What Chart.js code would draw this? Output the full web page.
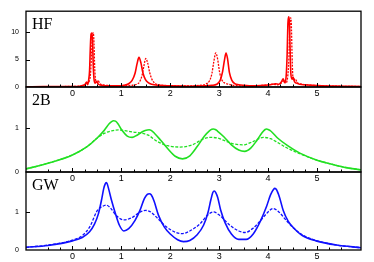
<!DOCTYPE html>
<html>
<head>
<meta charset="utf-8">
<script src="https://cdn.jsdelivr.net/npm/chart.js@4.4.0/dist/chart.umd.min.js"></script>
<style>
  html, body { margin: 0; padding: 0; background: #fff; }
  #wrap { position: relative; width: 374px; height: 262px; }
  #wrap canvas { position: absolute; left: 0; top: 0; }
</style>
</head>
<body>
<div id="wrap">
  <canvas id="hf" width="374" height="262"></canvas>
  <canvas id="twoB" width="374" height="262"></canvas>
  <canvas id="gw" width="374" height="262"></canvas>
</div>
<script>
// x axis shared by all three panels
const xMin = -0.95;
const xMax = 5.9;
const xTickLabels = [0, 1, 2, 3, 4, 5];

// HF panel (red)
const hfSolidX = [-0.95, -0.6, -0.3, 0.0, 0.15, 0.22, 0.26, 0.29, 0.31, 0.33, 0.35, 0.365, 0.38, 0.395, 0.41, 0.425, 0.44, 0.46, 0.49, 0.53, 0.6, 0.75, 0.9, 1.05, 1.15, 1.22, 1.28, 1.32, 1.36, 1.40, 1.44, 1.49, 1.55, 1.62, 1.75, 2.0, 2.4, 2.7, 2.85, 2.95, 3.02, 3.07, 3.11, 3.14, 3.17, 3.21, 3.26, 3.32, 3.4, 3.5, 3.7, 3.9, 4.05, 4.15, 4.22, 4.27, 4.31, 4.34, 4.37, 4.39, 4.405, 4.42, 4.435, 4.45, 4.465, 4.49, 4.51, 4.54, 4.58, 4.65, 4.75, 4.9, 5.1, 5.5, 5.9];
const hfSolidY = [0.05, 0.06, 0.08, 0.1, 0.15, 0.3, 0.5, 0.9, 0.4, 1.2, 3.0, 7.0, 9.6, 9.8, 8.5, 4.0, 1.5, 0.7, 1.0, 0.5, 0.3, 0.2, 0.2, 0.3, 0.6, 1.2, 2.5, 4.2, 5.4, 4.4, 2.6, 1.4, 0.8, 0.5, 0.3, 0.2, 0.15, 0.2, 0.3, 0.5, 1.2, 2.8, 5.0, 6.2, 5.2, 2.6, 1.2, 0.6, 0.4, 0.3, 0.2, 0.3, 0.4, 0.6, 0.5, 0.9, 1.5, 0.8, 2.0, 6.0, 11.5, 12.8, 12.0, 7.0, 2.5, 1.4, 1.8, 1.0, 0.7, 0.5, 0.4, 0.3, 0.2, 0.15, 0.1];
const hfDotX = [-0.95, -0.5, 0.0, 0.15, 0.25, 0.3, 0.34, 0.37, 0.39, 0.41, 0.425, 0.44, 0.455, 0.47, 0.49, 0.52, 0.56, 0.65, 0.8, 1.0, 1.2, 1.3, 1.37, 1.42, 1.46, 1.5, 1.54, 1.58, 1.63, 1.7, 1.8, 2.0, 2.3, 2.6, 2.72, 2.8, 2.85, 2.89, 2.93, 2.97, 3.01, 3.06, 3.12, 3.2, 3.3, 3.6, 3.9, 4.1, 4.2, 4.28, 4.33, 4.36, 4.4, 4.425, 4.445, 4.46, 4.475, 4.49, 4.505, 4.52, 4.55, 4.6, 4.7, 4.85, 5.0, 5.4, 5.9];
const hfDotY = [0.05, 0.07, 0.1, 0.15, 0.4, 0.7, 1.0, 2.5, 6.0, 9.4, 9.9, 8.0, 3.5, 1.5, 0.9, 1.2, 0.6, 0.35, 0.25, 0.2, 0.3, 0.45, 0.9, 2.0, 3.8, 5.2, 4.3, 2.6, 1.3, 0.6, 0.35, 0.25, 0.2, 0.3, 0.5, 1.1, 2.4, 4.6, 6.2, 5.0, 2.6, 1.2, 0.7, 0.5, 0.3, 0.2, 0.3, 0.5, 0.4, 0.8, 1.2, 0.7, 1.8, 5.0, 11.0, 12.6, 11.5, 6.0, 2.0, 1.2, 1.5, 0.8, 0.5, 0.35, 0.25, 0.15, 0.1];

// 2B panel (green)
const bSolidX = [-0.95, -0.5, 0, 0.3, 0.5, 0.65, 0.75, 0.8, 0.84, 0.88, 0.93, 1.02, 1.12, 1.22, 1.32, 1.45, 1.53, 1.57, 1.61, 1.68, 1.8, 1.95, 2.1, 2.25, 2.4, 2.55, 2.7, 2.8, 2.85, 2.88, 2.92, 2.97, 3.1, 3.25, 3.4, 3.52, 3.65, 3.77, 3.88, 3.94, 3.97, 4.0, 4.06, 4.2, 4.4, 4.65, 5.0, 5.33, 5.6, 5.9];
const bSolidY = [0.07, 0.2, 0.39, 0.58, 0.77, 0.95, 1.1, 1.15, 1.17, 1.16, 1.1, 0.94, 0.82, 0.79, 0.84, 0.93, 0.96, 0.965, 0.95, 0.88, 0.73, 0.53, 0.36, 0.3, 0.37, 0.58, 0.82, 0.94, 0.975, 0.98, 0.97, 0.93, 0.8, 0.62, 0.5, 0.47, 0.55, 0.72, 0.9, 0.97, 0.98, 0.97, 0.93, 0.77, 0.6, 0.43, 0.27, 0.17, 0.1, 0.05];
const bDashX = [-0.95, -0.5, 0, 0.3, 0.5, 0.65, 0.8, 0.94, 1.1, 1.25, 1.38, 1.55, 1.73, 1.95, 2.2, 2.45, 2.65, 2.8, 2.95, 3.1, 3.27, 3.49, 3.7, 3.9, 4.05, 4.2, 4.37, 4.6, 5.0, 5.33, 5.6, 5.9];
const bDashY = [0.07, 0.2, 0.39, 0.58, 0.77, 0.88, 0.94, 0.96, 0.94, 0.91, 0.89, 0.84, 0.7, 0.6, 0.57, 0.62, 0.74, 0.79, 0.78, 0.72, 0.65, 0.62, 0.7, 0.79, 0.76, 0.67, 0.56, 0.44, 0.27, 0.17, 0.1, 0.05];

// GW panel (blue)
const gwSolidX = [-0.95, -0.5, 0, 0.2, 0.35, 0.45, 0.53, 0.6, 0.64, 0.67, 0.69, 0.71, 0.745, 0.8, 0.88, 0.96, 1.05, 1.15, 1.28, 1.38, 1.47, 1.53, 1.57, 1.61, 1.67, 1.76, 1.88, 2.0, 2.15, 2.27, 2.4, 2.55, 2.68, 2.77, 2.83, 2.87, 2.9, 2.93, 2.97, 3.03, 3.12, 3.25, 3.4, 3.55, 3.7, 3.85, 3.97, 4.05, 4.11, 4.14, 4.17, 4.23, 4.31, 4.41, 4.51, 4.7, 4.98, 5.4, 5.9];
const gwSolidY = [0.07, 0.12, 0.24, 0.33, 0.48, 0.68, 0.95, 1.35, 1.62, 1.74, 1.77, 1.74, 1.58, 1.3, 0.95, 0.65, 0.5, 0.56, 0.78, 1.04, 1.35, 1.46, 1.48, 1.45, 1.28, 0.91, 0.6, 0.42, 0.27, 0.22, 0.25, 0.4, 0.65, 0.98, 1.32, 1.51, 1.55, 1.51, 1.38, 1.05, 0.72, 0.42, 0.28, 0.28, 0.43, 0.78, 1.15, 1.45, 1.59, 1.62, 1.59, 1.4, 1.04, 0.76, 0.6, 0.38, 0.24, 0.13, 0.06];
const gwDashX = [-0.95, -0.5, 0, 0.2, 0.35, 0.51, 0.62, 0.69, 0.78, 0.9, 1.05, 1.2, 1.39, 1.5, 1.6, 1.75, 1.93, 2.1, 2.24, 2.4, 2.61, 2.75, 2.88, 3.0, 3.22, 3.4, 3.53, 3.7, 3.85, 4.0, 4.1, 4.22, 4.37, 4.5, 4.7, 4.98, 5.4, 5.9];
const gwDashY = [0.07, 0.13, 0.26, 0.38, 0.6, 1.04, 1.15, 1.18, 1.1, 0.9, 0.79, 0.84, 1.0, 1.04, 1.0, 0.82, 0.6, 0.47, 0.43, 0.5, 0.69, 0.9, 1.0, 0.92, 0.65, 0.5, 0.46, 0.58, 0.78, 1.0, 1.09, 1.0, 0.78, 0.6, 0.4, 0.25, 0.13, 0.06];

function isInt(v) {
  return Math.abs(v - Math.round(v)) < 1e-6;
}

function toPoints(xs, ys) {
  return xs.map((x, i) => ({ x: x, y: ys[i] }));
}

// box round the plot, inward ticks and the panel name
const framePlugin = {
  id: 'frame',
  afterDraw(chart, args, opts) {
    const ctx = chart.ctx;
    const a = chart.chartArea;
    ctx.save();
    ctx.strokeStyle = '#000';
    ctx.lineWidth = 1.3;
    ctx.strokeRect(a.left, a.top, a.right - a.left, a.bottom - a.top);

    ctx.lineWidth = 1;
    const xs = chart.scales.x;
    for (const t of xs.ticks) {
      if (t.value <= xs.min + 1e-6 || t.value >= xs.max - 1e-6) continue;
      const px = Math.round(xs.getPixelForValue(t.value)) + 0.5;
      const len = isInt(t.value) ? 4 : 2.5;
      ctx.beginPath();
      ctx.moveTo(px, a.bottom);
      ctx.lineTo(px, a.bottom - len);
      ctx.stroke();
    }
    const ys = chart.scales.y;
    for (const t of ys.ticks) {
      if (t.value <= ys.min || t.value >= ys.max - 1e-6) continue;
      const py = Math.round(ys.getPixelForValue(t.value)) + 0.5;
      ctx.beginPath();
      ctx.moveTo(a.left, py);
      ctx.lineTo(a.left + 4, py);
      ctx.stroke();
    }

    ctx.fillStyle = '#000';
    ctx.font = '16px "Liberation Serif"';
    ctx.textBaseline = 'top';
    ctx.fillText(opts.label, a.left + 6, a.top + 6);
    ctx.restore();
  }
};

function makePanel(id, label, color, solid, dashed, dash, yMax, yStep, padTop, padBottom, xAxisHeight) {
  return new Chart(document.getElementById(id), {
    type: 'line',
    data: {
      datasets: [
        { data: solid, borderColor: color, borderWidth: 1.6 },
        { data: dashed, borderColor: color, borderWidth: 1.3, borderDash: dash }
      ]
    },
    options: {
      responsive: false,
      animation: false,
      elements: { point: { radius: 0 }, line: { cubicInterpolationMode: 'monotone' } },
      layout: { padding: { top: padTop, bottom: padBottom, left: 0, right: 13 } },
      plugins: {
        legend: { display: false },
        tooltip: { enabled: false },
        frame: { label: label }
      },
      scales: {
        x: {
          type: 'linear',
          min: xMin,
          max: xMax,
          grid: { display: false, drawTicks: false },
          border: { display: false },
          afterFit: (scale) => { scale.height = xAxisHeight; },
          ticks: {
            stepSize: 0.25,
            autoSkip: false,
            maxRotation: 0,
            padding: 1,
            color: '#000',
            font: { family: 'Liberation Sans', size: 9 },
            callback: (v) => (isInt(v) && xTickLabels.includes(Math.round(v))) ? String(Math.round(v)) : ''
          }
        },
        y: {
          min: 0,
          max: yMax,
          grid: { display: false, drawTicks: false },
          border: { display: false },
          afterFit: (scale) => { scale.width = 26; },
          ticks: {
            stepSize: yStep,
            autoSkip: false,
            padding: 7,
            color: '#000',
            font: { family: 'Liberation Sans', size: 7 },
            callback: (v) => (Math.abs(v / yStep - Math.round(v / yStep)) < 1e-6) ? String(v) : ''
          }
        }
      }
    },
    plugins: [framePlugin]
  });
}

makePanel('hf', 'HF', '#ff0000', toPoints(hfSolidX, hfSolidY), toPoints(hfDotX, hfDotY), [2, 1.2], 13.8, 5, 7, 161, 14);
makePanel('twoB', '2B', '#22e022', toPoints(bSolidX, bSolidY), toPoints(bDashX, bDashY), [3, 1.5], 1.94, 1, 87, 76, 14);
makePanel('gw', 'GW', '#1010ff', toPoints(gwSolidX, gwSolidY), toPoints(gwDashX, gwDashY), [3, 1.5], 2.05, 1, 172, 0, 12);
</script>
</body>
</html>
